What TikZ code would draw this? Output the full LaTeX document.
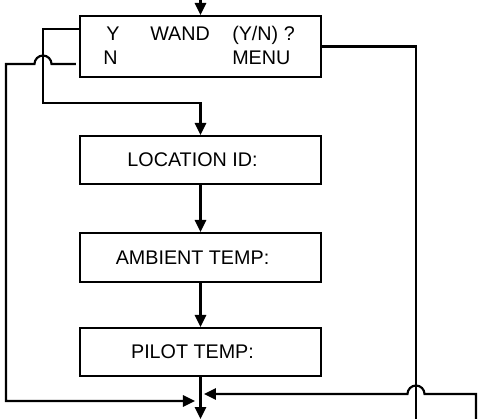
\documentclass[tikz,border=0pt]{standalone}
\usepackage{fontspec}
\setmainfont{Liberation Sans}
\usetikzlibrary{arrows.meta}
\usetikzlibrary{calc}

\tikzset{
    screen/.style={draw, line width=1.6pt, minimum width=180.75pt, minimum height=36pt, inner sep=0pt, font=\fontsize{14.8}{17}\selectfont, execute at end node=\hspace*{12pt}},
    lbl/.style={inner sep=0pt, anchor=base west, font=\fontsize{14.8}{17}\selectfont},
    wire/.style={line width=1.6pt},
    flow/.style={line width=1.6pt, -{Triangle[length=9pt, width=8.5pt]}}
}

\begin{document}
\begin{tikzpicture}[x=0.75pt, y=-0.75pt]
    \useasboundingbox (0,0) rectangle (480,419);

    % menu boxes
    \node[draw, line width=1.6pt, minimum width=180.75pt, minimum height=45.75pt] (wand) at (200.5,46.5) {};
    \node[lbl] (yes) at (106,40) {Y};
    \node[lbl] (no) at (103,64.5) {N};
    \node[lbl] (ask) at (150,40) {WAND};
    \node[lbl] (yn) at (232,40) {(Y/N) ?};
    \node[lbl] (menu) at (232,64.5) {MENU};

    \node[screen] (loc) at (200.5,160) {LOCATION ID:};
    \node[screen, minimum height=36.75pt] (amb) at (200.5,257.5) {AMBIENT TEMP:};
    \node[screen] (pilot) at (200.5,352) {PILOT TEMP:};

    \coordinate (start) at (200.5,0);
    \coordinate (yturn) at (43,29);
    \coordinate (ydown) at (43,103);
    \coordinate (nhop) at (51.5,64);
    \coordinate (nturn) at (6,64);
    \coordinate (nin) at (195,401);
    \coordinate (mout) at (416,421);
    \coordinate (rin) at (476,421);
    \coordinate (rturn) at (476,394);
    \coordinate (rhop) at (424.5,394);
    \coordinate (rend) at (204,394);
    \coordinate (out) at (200.5,419);

    % main path
    \draw[flow] (start) -- (wand.north);
    \draw[flow] (loc.south) -- (amb.north);
    \draw[flow] (amb.south) -- (pilot.north);
    \draw[flow] (pilot.south) -- (out);

    % Y / N branches
    \draw[flow] (wand.west |- yturn) -- (yturn) -- (ydown) -| (loc.north);
    \draw[flow] (wand.west |- nhop) ++(-3,0) -- (nhop) arc (0:-180:8.5) -- (nturn) |- (nin);

    % MENU and return line
    \draw[wire] (wand.east) -| (mout);
    \draw[flow] (rin) -- (rturn) -- (rhop) arc (0:-180:8.5) -- (rend);
\end{tikzpicture}
\end{document}
